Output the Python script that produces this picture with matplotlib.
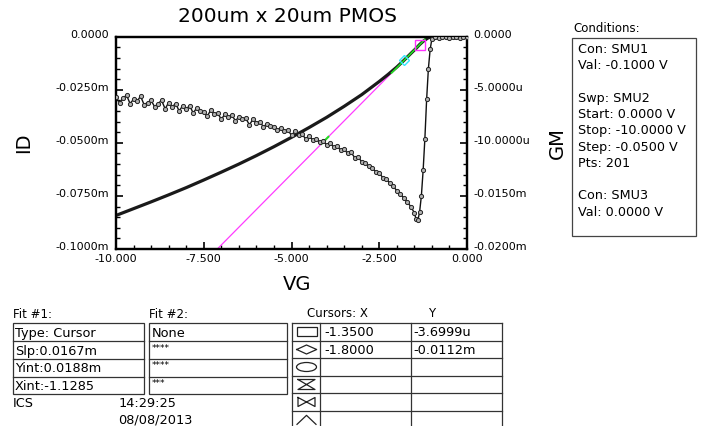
import numpy as np
import matplotlib
matplotlib.use("Agg")
import matplotlib.pyplot as plt
import matplotlib.transforms as mtransforms
from matplotlib.ticker import MultipleLocator
from matplotlib.patches import Rectangle, Ellipse

W, H = 702, 427

# ---- dati (ID e GM nelle unita' "m" dello strumento) ----
vg_id = [-10.0, -9.5, -9.0, -8.5, -8.0, -7.5, -7.0, -6.5, -6.0, -5.5, -5.0,
         -4.5, -4.0, -3.5, -3.0, -2.5, -2.25, -2.0, -1.8, -1.6, -1.45, -1.35,
         -1.25, -1.15, -1.10, -1.05, -1.0, -0.5, 0.0]
id_m = [-0.0842, -0.0810, -0.0778, -0.0745, -0.0711, -0.0675, -0.0638, -0.0600,
        -0.0560, -0.0518, -0.0474, -0.0428, -0.0380, -0.0328, -0.0273, -0.0211,
        -0.0178, -0.0143, -0.0112, -0.0079, -0.0055, -0.0037, -0.0022, -0.0010,
        -0.0005, -0.0002, 0.0, 0.0, 0.0]

# sweep a passo 0.1 V da -10 a -1.5 V
vg_gm_sweep = np.round(np.arange(-10.0, -1.45, 0.1), 2)
gm_sweep = [
    -0.0057, -0.0062, -0.0058, -0.0055, -0.0063, -0.0059, -0.0061, -0.0056, -0.0064, -0.0062,
    -0.0060, -0.0066, -0.0063, -0.0060, -0.0068, -0.0062, -0.0066, -0.0063, -0.0070, -0.0065,
    -0.0068, -0.0065, -0.0072, -0.0067, -0.0070, -0.0071, -0.0075, -0.0069, -0.0073, -0.0072,
    -0.0078, -0.0073, -0.0076, -0.0074, -0.0079, -0.0076, -0.0078, -0.0077, -0.0083, -0.0078,
    -0.0081, -0.0080, -0.0085, -0.0082, -0.0084, -0.0085, -0.0088, -0.0086, -0.0089, -0.0088,
    -0.0093, -0.0089, -0.0093, -0.0092, -0.0096, -0.0094, -0.0097, -0.0096, -0.0099, -0.0098,
    -0.0102, -0.0100, -0.0104, -0.0103, -0.0107, -0.0106, -0.0110, -0.0109, -0.0114, -0.0113,
    -0.0118, -0.0119, -0.0122, -0.0124, -0.0127, -0.0128, -0.0133, -0.0134, -0.0138, -0.0141,
    -0.0145, -0.0148, -0.0152, -0.0156, -0.0160, -0.0166,
]
vg_gm_knee = [-1.45, -1.40, -1.35, -1.30, -1.25, -1.20, -1.15, -1.10, -1.05, -1.00]
gm_knee = [-0.0172, -0.0173, -0.0165, -0.0150, -0.0126, -0.0096, -0.0059, -0.0030,
           -0.0012, -0.0002]
vg_gm_off = [-0.9, -0.8, -0.7, -0.6, -0.5, -0.4, -0.3, -0.2, -0.1, 0.0]
gm_off = [0.0, -0.0001, 0.0, 0.0, -0.0001, 0.0, 0.0, -0.0001, 0.0, 0.0]

# fit #1 (cursor)
fit_slope = 0.0167
fit_yint = 0.0188
cursor_x = [-1.35, -1.80]
cursor_y = [-0.0036999, -0.0112]

x_ticks = [-10.0, -7.5, -5.0, -2.5, 0.0]
x_labels = ["-10.000", "-7.500", "-5.000", "-2.500", "0.000"]
id_ticks = [0.0, -0.025, -0.05, -0.075, -0.1]
id_labels = ["0.0000", "-0.0250m", "-0.0500m", "-0.0750m", "-0.1000m"]
gm_ticks = [0.0, -0.005, -0.01, -0.015, -0.02]
gm_labels = ["0.0000", "-5.0000u", "-10.0000u", "-0.0150m", "-0.0200m"]

conditions = ["Con: SMU1", "Val: -0.1000 V", "", "Swp: SMU2", "Start: 0.0000 V",
              "Stop: -10.0000 V", "Step: -0.0500 V", "Pts: 201", "",
              "Con: SMU3", "Val: 0.0000 V"]
fit1_rows = ["Type: Cursor", "Slp:0.0167m", "Yint:0.0188m", "Xint:-1.1285"]
fit2_rows = ["None", "****", "****", "***"]
cursor_rows_x = ["-1.3500", "-1.8000", "", "", "", ""]
cursor_rows_y = ["-3.6999u", "-0.0112m", "", "", "", ""]

fig = plt.figure(figsize=(W / 100, H / 100), dpi=100)
fig.patch.set_facecolor("white")

ax = fig.add_axes([116 / W, 1 - 250 / H, 351 / W, 212.3 / H])
ax2 = ax.twinx()

# ID
ax.plot(vg_id, id_m, color="#1a1a1a", lw=2.3, zorder=3)
# retta di fit (magenta) e tratti verdi
fx = np.array([-10.0, 0.0])
ax.plot(fx, fit_slope * fx + fit_yint, color="#ff3cff", lw=0.9, zorder=2)
gx = np.array([-2.15, -1.2])
ax.plot(gx, fit_slope * gx + fit_yint, color="#22dd22", lw=1.2, zorder=4)
gx2 = np.array([-4.15, -3.95])
ax.plot(gx2, fit_slope * gx2 + fit_yint, color="#22dd22", lw=1.5, zorder=4)
# cursori
ax.plot(cursor_x[0], cursor_y[0], marker="s", ms=7.5, mfc="none", mec="#ff30ff",
        mew=1.0, zorder=5, clip_on=False)
ax.plot(cursor_x[1], cursor_y[1], marker="D", ms=5.5, mfc="none", mec="#33e6ff",
        mew=1.0, zorder=5)

# GM
gm_x = list(vg_gm_sweep) + vg_gm_knee + vg_gm_off
gm_y = gm_sweep + gm_knee + gm_off
ax2.plot(gm_x, gm_y, color="#111111", lw=1.0, marker="o", ms=3.0,
         mfc="#b0b0b0", mec="#222222", mew=0.7, zorder=3)

ax.set_xlim(-10, 0)
ax.set_ylim(-0.1, 0)
ax2.set_ylim(-0.02, 0)

for a in (ax, ax2):
    for s in a.spines.values():
        s.set_linewidth(1.6)
        s.set_color("black")

ax.set_xticks(x_ticks)
ax.set_xticklabels(x_labels)
ax.xaxis.set_minor_locator(MultipleLocator(0.5))
ax.set_yticks(id_ticks)
ax.set_yticklabels(id_labels)
ax.yaxis.set_minor_locator(MultipleLocator(0.005))
ax2.set_yticks(gm_ticks)
ax2.set_yticklabels(gm_labels)
ax2.yaxis.set_minor_locator(MultipleLocator(0.001))

ax.tick_params(axis="both", which="major", direction="in", length=5, width=1.2,
               labelsize=8, colors="black")
ax.tick_params(axis="both", which="minor", direction="in", length=3, width=1.0)
ax.tick_params(axis="y", pad=5)
ax.tick_params(axis="x", pad=3)
ax2.tick_params(axis="y", which="major", direction="in", length=5, width=1.2,
                labelsize=8, pad=4.5)
ax2.tick_params(axis="y", which="minor", direction="in", length=3, width=1.0)

# etichette y leggermente sopra le tacche
up = mtransforms.ScaledTranslation(0, 3.5 / 100, fig.dpi_scale_trans)
for lbl in ax.get_yticklabels() + ax2.get_yticklabels():
    lbl.set_transform(lbl.get_transform() + up)

# overlay in pixel per titoli, riquadri e tabelle
ov = fig.add_axes([0, 0, 1, 1])
ov.set_xlim(0, W)
ov.set_ylim(H, 0)
ov.axis("off")
ov.patch.set_alpha(0)

ov.text(288, 17, "200um x 20um PMOS", fontsize=14.5, ha="center", va="center")
ov.text(297, 285, "VG", fontsize=14, ha="center", va="center")
ov.text(24, 143, "ID", fontsize=14, ha="center", va="center", rotation=90)
ov.text(557, 143, "GM", fontsize=14, ha="center", va="center", rotation=90)

# Conditions
ov.text(573, 29, "Conditions:", fontsize=8.5, ha="left", va="center")
ov.add_patch(Rectangle((572.3, 39.3), 123.7, 197.4, fill=False, ec="#444444", lw=0.9))
for i, line in enumerate(conditions):
    if line:
        ov.text(578.5, 49.3 + i * 16.3, line, fontsize=9.2, ha="left", va="center")

# tabelle fit
row_y = [324.3, 342.3, 360.0, 377.7, 395.0]
lc = "#333333"
ov.text(13, 315, "Fit #1:", fontsize=8.5, ha="left", va="center")
ov.text(149, 315, "Fit #2:", fontsize=8.5, ha="left", va="center")
for (x0, x1) in [(12.7, 144.0), (149.0, 287.3)]:
    ov.add_patch(Rectangle((x0, row_y[0]), x1 - x0, row_y[-1] - row_y[0],
                           fill=False, ec=lc, lw=0.9))
    for yy in row_y[1:-1]:
        ov.plot([x0, x1], [yy, yy], color=lc, lw=0.9)
for i, txt in enumerate(fit1_rows):
    ov.text(15, (row_y[i] + row_y[i + 1]) / 2, txt, fontsize=9.3, ha="left", va="center")
for i, txt in enumerate(fit2_rows):
    if txt.startswith("*"):
        ov.text(151.5, row_y[i] + 1.5, txt, fontsize=6.5, ha="left", va="top")
    else:
        ov.text(151.5, (row_y[i] + row_y[i + 1]) / 2, txt, fontsize=9.3,
                ha="left", va="center")

ov.text(13, 404, "ICS", fontsize=9.3, ha="left", va="center")
ov.text(118.3, 404, "14:29:25", fontsize=9.3, ha="left", va="center")
ov.text(118.3, 420.5, "08/08/2013", fontsize=9.3, ha="left", va="center")

# tabella cursori
ov.text(306.7, 314, "Cursors: X", fontsize=8.5, ha="left", va="center")
ov.text(431.7, 314, "Y", fontsize=8.5, ha="center", va="center")
cy = [324.0, 341.7, 359.3, 376.7, 394.3, 411.7, 429.0]
cx = [292.3, 320.0, 410.7, 502.3]
for yy in cy:
    ov.plot([cx[0], cx[-1]], [yy, yy], color=lc, lw=0.9)
for xx in cx:
    ov.plot([xx, xx], [cy[0], H + 2], color=lc, lw=0.9)
for i in range(6):
    ymid = (cy[i] + cy[i + 1]) / 2
    if cursor_rows_x[i]:
        ov.text(324.3, ymid, cursor_rows_x[i], fontsize=9.3, ha="left", va="center")
        ov.text(413.3, ymid, cursor_rows_y[i], fontsize=9.3, ha="left", va="center")

# icone dei cursori
ic = "#222222"
m = [(cy[i] + cy[i + 1]) / 2 for i in range(6)]
ov.add_patch(Rectangle((296.7, m[0] - 4.5), 20, 9, fill=False, ec=ic, lw=0.9))
ov.plot([296.7, 306.5, 316.7, 306.5, 296.7], [m[1], m[1] - 4.5, m[1], m[1] + 4.5, m[1]],
        color=ic, lw=0.9)
ov.add_patch(Ellipse((306.5, m[2]), 20, 9, fill=False, ec=ic, lw=0.9))
ov.plot([298, 315, 298, 315, 298], [m[3] - 5, m[3] - 5, m[3] + 5, m[3] + 5, m[3] - 5],
        color=ic, lw=0.9)
ov.plot([298, 298, 315, 315, 298], [m[4] - 4.5, m[4] + 4.5, m[4] - 4.5, m[4] + 4.5, m[4] - 4.5],
        color=ic, lw=0.9)
ov.plot([297, 306.5, 316], [m[5] + 5, m[5] - 4, m[5] + 5], color=ic, lw=0.9)

fig.savefig("out.png", dpi=100)
